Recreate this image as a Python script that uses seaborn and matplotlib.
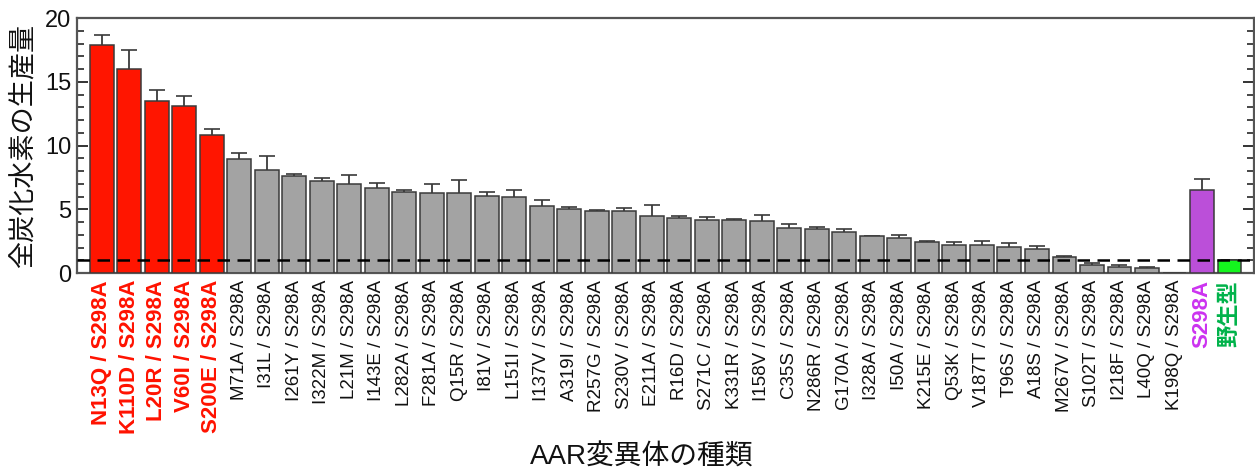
import matplotlib
matplotlib.use("Agg")
import matplotlib.pyplot as plt
from matplotlib.ticker import MultipleLocator
import seaborn as sns
import numpy as np

# AAR variants and total hydrocarbon production (relative to wild type)
variants = [
    "N13Q / S298A", "K110D / S298A", "L20R / S298A", "V60I / S298A", "S200E / S298A",
    "M71A / S298A", "I31L / S298A", "I261Y / S298A", "I322M / S298A", "L21M / S298A",
    "I143E / S298A", "L282A / S298A", "F281A / S298A", "Q15R / S298A", "I81V / S298A",
    "L151I / S298A", "I137V / S298A", "A319I / S298A", "R257G / S298A", "S230V / S298A",
    "E211A / S298A", "R16D / S298A", "S271C / S298A", "K331R / S298A", "I158V / S298A",
    "C35S / S298A", "N286R / S298A", "G170A / S298A", "I328A / S298A", "I50A / S298A",
    "K215E / S298A", "Q53K / S298A", "V187T / S298A", "T96S / S298A", "A18S / S298A",
    "M267V / S298A", "S102T / S298A", "I218F / S298A", "L40Q / S298A", "K198Q / S298A",
    "S298A", "野生型",
]
production = [
    17.9, 16.0, 13.5, 13.1, 10.85,
    8.95, 8.1, 7.6, 7.25, 7.02,
    6.65, 6.32, 6.25, 6.25, 6.08,
    6.0, 5.27, 5.03, 4.9, 4.83,
    4.46, 4.28, 4.17, 4.17, 4.09,
    3.57, 3.44, 3.21, 2.87, 2.76,
    2.4, 2.22, 2.19, 2.06, 1.85,
    1.23, 0.63, 0.45, 0.42, 0.0,
    6.49, 1.0,
]
production_err = [
    0.75, 1.5, 0.85, 0.8, 0.45,
    0.45, 1.05, 0.2, 0.18, 0.65,
    0.38, 0.23, 0.75, 1.05, 0.26,
    0.55, 0.44, 0.13, 0.08, 0.26,
    0.9, 0.18, 0.21, 0.1, 0.47,
    0.29, 0.2, 0.21, 0.06, 0.24,
    0.13, 0.23, 0.31, 0.26, 0.26,
    0.12, 0.17, 0.15, 0.07, 0.0,
    0.89, 0.0,
]
# variant group: top combinations, other combinations, single mutant, wild type
groups = ["top"] * 5 + ["other"] * 35 + ["single", "wt"]
wild_type_level = 1.0

bar_colors = {"top": "#FF1500", "other": "#A3A3A3", "single": "#BB4FD9", "wt": "#14F51E"}
label_styles = {
    "top": ("#FF1200", "bold", 16),
    "other": ("#111111", "normal", 13.5),
    "single": ("#CC33F0", "bold", 16),
    "wt": ("#00B34A", "bold", 16),
}

sns.set_theme(style="white")
plt.rcParams["font.family"] = ["Liberation Sans", "Noto Sans CJK JP"]

fig = plt.figure(figsize=(12.55, 4.73), dpi=100)
ax = fig.add_axes([0.0614, 0.4228, 0.938, 0.539])

sns.barplot(
    x=variants, y=production, hue=variants,
    palette=[bar_colors[g] for g in groups], legend=False,
    errorbar=None, width=0.87, edgecolor="#3a3a3a", linewidth=1.1,
    saturation=1.0, ax=ax, zorder=3,
)

# upper error bars (lower half is hidden behind the bars)
xpos = np.arange(len(variants))
ax.errorbar(
    xpos, production, yerr=production_err, fmt="none",
    ecolor="#3a3a3a", elinewidth=1.3, capsize=5.5, capthick=1.2, zorder=2,
)

# wild-type reference level
ax.axhline(wild_type_level, color="black", lw=1.8, ls=(0, (5, 3)), zorder=4)

ax.set_xlim(-0.9, len(variants) - 0.1)
ax.set_ylim(0, 20)
ax.yaxis.set_major_locator(MultipleLocator(5))
ax.yaxis.set_minor_locator(MultipleLocator(1))
ax.tick_params(axis="y", which="major", direction="in", length=8, width=1.2,
               left=True, right=True, labelsize=17, colors="#111111", pad=4)
ax.tick_params(axis="y", which="minor", direction="in", length=5, width=1.2,
               left=True, right=True)
ax.tick_params(axis="x", length=0, pad=5)

for side in ["left", "right", "top", "bottom"]:
    ax.spines[side].set_visible(True)
    ax.spines[side].set_color("#555555")
    ax.spines[side].set_linewidth(1.6)

ax.set_xticks(xpos)
ax.set_xticklabels(variants, rotation=90, va="top", ha="center")
for lbl, g in zip(ax.get_xticklabels(), groups):
    color, weight, size = label_styles[g]
    lbl.set_color(color)
    lbl.set_fontweight(weight)
    lbl.set_fontsize(size)

ax.set_xlabel("")
ax.set_ylabel("全炭化水素の生産量", fontsize=19.5, color="#111111", labelpad=6)
fig.text(642 / 1255, 1 - 458 / 473, "AAR変異体の種類", fontsize=20,
         color="#111111", ha="center", va="center")

fig.savefig("out.png", dpi=100)
